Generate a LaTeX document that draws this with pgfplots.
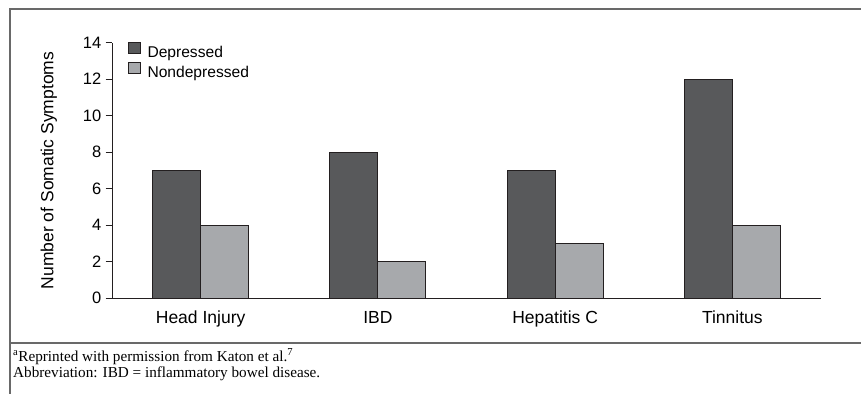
\documentclass[border=0pt]{standalone}
\usepackage{fontspec}
\setmainfont{Liberation Serif}
\newfontfamily\arialf{Liberation Sans}
\usepackage{pgfplots}
\pgfplotsset{compat=1.18}
\definecolor{darkbar}{RGB}{88,89,91}
\definecolor{lightbar}{RGB}{167,169,172}
\definecolor{edgec}{RGB}{35,31,32}
\definecolor{framec}{RGB}{105,105,105}
\pgfplotsset{sqlegend/.style={legend image code/.code={\draw[##1,line width=0.8pt] (0pt,-0.5pt) rectangle (11.5pt,11pt);}}}
\begin{document}
\begin{tikzpicture}
\useasboundingbox (0pt,0pt) rectangle (861pt,-394pt);
\draw[framec, line width=1.6pt] (861pt,-9pt) -- (10pt,-9pt) -- (10pt,-394pt);
\draw[framec, line width=1.6pt] (10pt,-343pt) -- (861pt,-343pt);
\begin{axis}[
  at={(112pt,-298.3pt)}, anchor=south west, scale only axis,
  width=709pt, height=255.6pt,
  ybar=0pt, bar width=48pt,
  xmin=-0.5, xmax=3.5, ymin=0, ymax=14,
  xtick={0,1,2,3}, xticklabels={Head Injury, IBD, Hepatitis C, Tinnitus},
  ytick={0,2,...,14},
  axis x line*=bottom, axis y line*=left,
  axis line style={draw=edgec, line width=0.9pt, -},
  tick align=outside, major tick length=6.5pt,
  ytick style={draw=edgec, line width=0.9pt},
  xtick style={draw=none},
  /pgf/number format/assume math mode=true,
  yticklabel style={font=\arialf\fontsize{16.5}{18}\selectfont, inner sep=0pt, xshift=-4pt},
  xticklabel style={font=\arialf\fontsize{17.5}{20}\selectfont, inner sep=0pt, yshift=-6pt},
  ylabel={Number of Somatic Symptoms},
  ylabel style={font=\arialf\fontsize{17.5}{20}\selectfont, at={(axis description cs:-0.0889,0.5)}, anchor=center},
  every axis plot post/.append style={sqlegend},
  legend style={at={(axis description cs:0,1)}, anchor=north west, xshift=16pt, yshift=1pt,
    draw=none, fill=none, inner sep=0pt, row sep=1.5pt, column sep=7pt,
    font=\arialf\fontsize{15.6}{18}\selectfont,
    nodes={inner sep=0pt, text height=11pt, text depth=3pt}},
  legend cell align=left,
  clip=false,
]
\addplot[fill=darkbar, draw=edgec, line width=0.8pt] coordinates {(0,7) (1,8) (2,7) (3,12)};
\addlegendentry{Depressed}
\addplot[fill=lightbar, draw=edgec, line width=0.8pt] coordinates {(0,4) (1,2) (2,3) (3,4)};
\addlegendentry{Nondepressed}
\end{axis}
\node[anchor=base west, inner sep=0pt, font=\fontsize{15.2}{17}\selectfont] at (13pt,-361pt) {\textsuperscript{a}Reprinted with permission from Katon et al.\textsuperscript{7}};
\node[anchor=base west, inner sep=0pt, font=\fontsize{15.2}{17}\selectfont] at (13pt,-377pt) {Abbreviation: IBD = inflammatory bowel disease.};
\end{tikzpicture}
\end{document}
